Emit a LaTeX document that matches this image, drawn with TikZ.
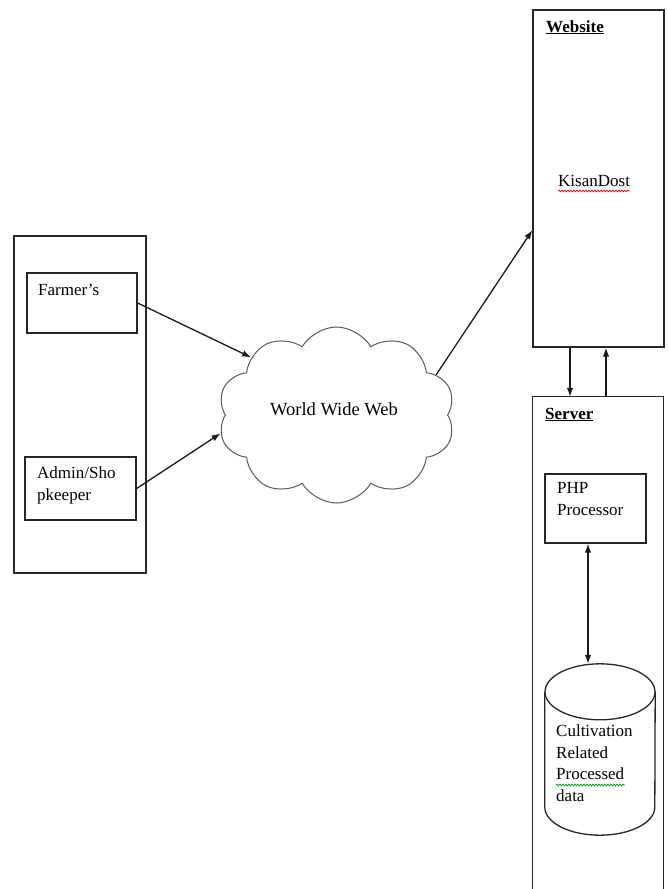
\documentclass[tikz,border=0pt]{standalone}
\usepackage{fontspec}
\setmainfont{Liberation Serif}
\usetikzlibrary{shapes.symbols,arrows.meta,decorations.pathmorphing,calc}
\begin{document}
\begin{tikzpicture}[x=1pt,y=1pt,
  box/.style={draw=black!85, line width=1.3pt, rectangle, inner sep=0pt},
  ghost/.style={rectangle, inner sep=0pt},
  txt/.style={anchor=base west, inner sep=0pt, align=left, font=\fontsize{17}{21.5}\selectfont},
  conn/.style={draw=black!90, line width=1.3pt, -{Latex[length=9pt,width=6.5pt]}},
  dconn/.style={draw=black!90, line width=1.3pt, {Latex[length=9pt,width=6.5pt]}-{Latex[length=9pt,width=6.5pt]}},
  wavy/.style={line width=0.7pt, decorate, decoration={snake, amplitude=0.9pt, segment length=3pt}}]
\useasboundingbox (0,0) rectangle (667,-889);
\fill[white] (0,0) rectangle (667,-889);

% left group
\node[box, minimum width=132pt, minimum height=337pt] (group) at (80,-404.5) {};
\node[box, minimum width=110pt, minimum height=60pt] (farmer) at (82,-303) {};
\node[txt] (farmertxt) at (38,-295) {Farmer’s};
\node[box, minimum width=111pt, minimum height=63pt] (admin) at (80.5,-488.5) {};
\node[txt] (admintxt) at (37,-500) {Admin/Sho\\pkeeper};

% cloud
\node[cloud, draw=black!65, line width=1pt, cloud puffs=10, cloud puff arc=120, aspect=1.35,
      minimum width=237pt, minimum height=176pt, inner sep=0pt] (cloud) at (336.5,-415) {};
\node[txt, anchor=base, font=\fontsize{18.5}{22}\selectfont] (wwwtxt) at (334,-415) {World Wide Web};

% website
\node[box, minimum width=131pt, minimum height=337pt] (website) at (598.5,-178.5) {};
\node[txt] (webtitle) at (546,-32) {\underline{\textbf{Website}}};
\node[txt] (kisan) at (558,-186) {KisanDost};
\draw[red, wavy] ($(kisan.base west)+(0,-5)$) -- ($(kisan.base east)+(0,-5)$);

% server (open at the bottom)
\node[ghost, minimum width=130pt, minimum height=492pt] (server) at (598,-643) {};
\draw[draw=black!85, line width=1.3pt] (server.south west) |- (server.north east) -- (server.south east);
\node[txt] (servertitle) at (545,-419) {\underline{\textbf{Server}}};

\node[box, minimum width=101pt, minimum height=69pt] (php) at (595.5,-508.5) {};
\node[txt] (phptxt) at (557,-515) {PHP\\Processor};

% database cylinder
\node[ghost, minimum width=110pt, minimum height=171pt] (db) at (600,-749.5) {};
\draw[draw=black!85, line width=1.3pt] ($(db.north)+(0,-28)$) ellipse [x radius=55, y radius=28];
\draw[draw=black!85, line width=1.3pt] ($(db.north west)+(0,-28)$) -- ($(db.south west)+(0,28)$)
  arc[start angle=180, end angle=360, x radius=55, y radius=28] -- ($(db.north east)+(0,-28)$);
\node[txt] (dbtxt) at (556,-801) {Cultivation\\Related\\Processed\\data};
\draw[green!60!black, wavy] (556,-785) -- (625,-785);

% connectors
\draw[conn] (farmer.east) -- (cloud.146);
\draw[conn] (admin.east) -- (cloud.189);
\draw[conn] (cloud.22) -- (website.218.2);
\draw[conn] ([xshift=-28.5pt]website.south) -- ([xshift=-28.5pt]website.south |- server.north);
\draw[conn] ([xshift=7.5pt]website.south |- server.north) -- ([xshift=7.5pt]website.south);
\draw[dconn] ([xshift=-7.5pt]php.south) -- ([xshift=-7.5pt]php.south |- db.north);
\end{tikzpicture}
\end{document}
